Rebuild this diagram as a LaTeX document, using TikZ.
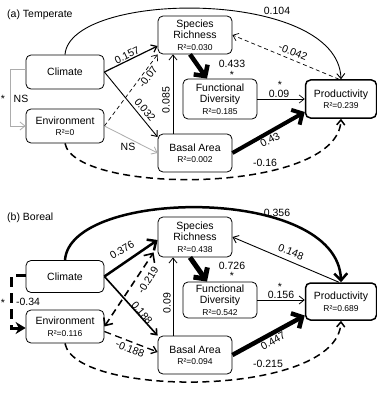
\documentclass[tikz,border=0pt]{standalone}
\usepackage{fontspec}
\setmainfont{Liberation Sans}
\usetikzlibrary{arrows.meta}
\newcommand\Rtext[1]{{\fontsize{8.5}{9.5}\selectfont #1}}
\begin{document}
\begin{tikzpicture}[x=1pt,y=-1pt,
  box/.style={draw, rounded corners=5pt, line width=0.8pt, align=center, inner sep=0pt,
    font=\fontsize{10.5}{11.5}\selectfont},
  prodbox/.style={box, line width=1.5pt},
  lab/.style={font=\fontsize{10.5}{12}\selectfont, inner sep=0pt},
  e/.style={-{Straight Barb[length=5pt,width=8pt]}, line width=0.8pt},
  ebig/.style={-{Straight Barb[length=8pt,width=17pt]}},
  emid/.style={-{Straight Barb[length=7pt,width=13pt]}},
  ns/.style={e, draw=gray!65},
  dsh/.style={dash pattern=on 4pt off 3pt},
  dshbig/.style={dash pattern=on 7pt off 4.5pt},
]
\useasboundingbox (0,0) rectangle (376,393);
\fill[white] (0,0) rectangle (376,393);

% ---------------- (a) Temperate ----------------
\node[lab, anchor=west] (tA) at (7,15) {(a) Temperate};
\node[box, minimum width=78pt, minimum height=34pt] (cA) at (65,72) {Climate};
\node[box, minimum width=78pt, minimum height=34pt] (eA) at (65,126) {Environment\\\Rtext{R²=0}};
\node[box, minimum width=74pt, minimum height=38pt] (sA) at (195,35) {Species\\Richness\\\Rtext{R²=0.030}};
\node[box, minimum width=74pt, minimum height=40pt] (fA) at (220,99) {Functional\\Diversity\\\Rtext{R²=0.185}};
\node[box, minimum width=74pt, minimum height=38pt] (bA) at (195,153) {Basal Area\\\Rtext{R²=0.002}};
\node[prodbox, minimum width=71pt, minimum height=38pt] (pA) at (341,99) {Productivity\\\Rtext{R²=0.239}};

\draw[e, line width=1.2pt] (cA.east) -- ([yshift=-11pt]sA.west);
\draw[e, line width=0.9pt] (cA.east) -- ([yshift=16pt]bA.west);
\draw[e, dsh, line width=0.7pt] (eA.east) -- (sA.south west);
\draw[ns] (eA.east) -- (bA.west);
\draw[ns] ([yshift=3pt]cA.west) -- ++(-15,0) |- (eA.west);
\draw[e] ([xshift=-22pt]bA.north) -- ([xshift=-22pt]sA.south);
\draw[ebig, line width=4.5pt] ([xshift=-5pt]sA.south) -- ([xshift=-13pt]fA.north);
\draw[e, line width=0.7pt] (fA.east) -- (pA.west);
\draw[ebig, line width=4pt] (bA.east) -- ([yshift=-13pt]pA.west);
\draw[e, dshbig, line width=1.5pt] (eA.south) .. controls (75,195) and (338,195) .. (pA.south);
\draw[e, line width=0.9pt] (cA.north) .. controls (70,-10) and (338,-12) .. (pA.north);
\draw[e, dsh, line width=0.7pt] ([xshift=-2pt]pA.north) -- (sA.east);

\node[lab, rotate=26] (lA1) at (127,55) {0.157};
\node[lab, rotate=-50] (lA2) at (145,110) {0.032};
\node[lab, rotate=54] (lA3) at (148,77) {-0.07};
\node[lab] (lA4) at (128,147) {NS};
\node[lab] (lA5) at (21,99) {NS};
\node[lab] (lA6) at (3,99) {*};
\node[lab, rotate=90] (lA7) at (166,100) {0.085};
\node[lab] (lA8) at (232,64) {0.433};
\node[lab] (lA9) at (232,75) {*};
\node[lab] (lA10) at (280,85) {*};
\node[lab] (lA11) at (279,94) {0.09};
\node[lab, rotate=28] (lA12) at (270,140) {0.43};
\node[lab] (lA13) at (265,163) {-0.16};
\node[lab] (lA14) at (277,11) {0.104};
\node[lab, rotate=-22] (lA15) at (293,52) {-0.042};

% ---------------- (b) Boreal ----------------
\node[lab, anchor=west] (tB) at (7,218) {(b) Boreal};
\node[box, minimum width=78pt, minimum height=32pt] (cB) at (65,276.5) {Climate};
\node[box, minimum width=78pt, minimum height=33pt] (eB) at (65,326.5) {Environment\\\Rtext{R²=0.116}};
\node[box, minimum width=74pt, minimum height=40pt] (sB) at (195,237) {Species\\Richness\\\Rtext{R²=0.438}};
\node[box, minimum width=74pt, minimum height=36pt] (fB) at (220,300) {Functional\\Diversity\\\Rtext{R²=0.542}};
\node[box, minimum width=74pt, minimum height=38pt] (bB) at (195,355) {Basal Area\\\Rtext{R²=0.094}};
\node[prodbox, minimum width=71pt, minimum height=37pt] (pB) at (341,301.5) {Productivity\\\Rtext{R²=0.689}};

\draw[emid, line width=2.5pt] (cB.east) -- ([yshift=-3pt]sB.west);
\draw[e, line width=1.6pt] (cB.east) -- (bB.north west);
\draw[{Straight Barb[length=6pt,width=11pt]}-{Straight Barb[length=7pt,width=13pt]}, dshbig, line width=1.6pt] (eB.east) -- ([xshift=-4pt,yshift=5pt]sB.south west);
\draw[e, dshbig, line width=1.3pt] ([yshift=-5pt]eB.east) -- ([yshift=3pt]bB.west);
\draw[-{Stealth[length=10pt,width=12pt]}, dash pattern=on 10pt off 6pt, line width=3pt] ([yshift=1.5pt]cB.west) -- ++(-14,0) |- ([yshift=-1.5pt]eB.west);
\draw[e] ([xshift=-22pt]bB.north) -- ([xshift=-22pt]sB.south);
\draw[ebig, line width=5pt] ([xshift=-5pt]sB.south) -- ([xshift=-13pt]fB.north);
\draw[e, line width=0.8pt] (fB.east) -- (fB.east -| pB.west);
\draw[ebig, line width=4.5pt] (bB.east) -- ([yshift=-14pt]pB.west);
\draw[e, dshbig, line width=1.5pt] (eB.south) .. controls (75,398) and (338,398) .. (pB.south);
\draw[emid, line width=2.5pt] (cB.north) .. controls (70,188) and (338,185) .. (pB.north);
\draw[e, line width=0.9pt] ([xshift=-2pt]pB.north) -- (sB.east);

\node[lab, rotate=31] (lB1) at (122,250) {0.376};
\node[lab, rotate=-50] (lB2) at (142,313) {0.188};
\node[lab, rotate=58] (lB3) at (148,280) {-0.219};
\node[lab, rotate=-22] (lB4) at (130,349) {-0.188};
\node[lab] (lB5) at (28,302) {-0.34};
\node[lab] (lB6) at (3,303) {*};
\node[lab, rotate=90] (lB7) at (167,303) {0.09};
\node[lab] (lB8) at (232,266) {0.726};
\node[lab] (lB9) at (232,276) {*};
\node[lab] (lB10) at (280,287) {*};
\node[lab] (lB11) at (281,295) {0.156};
\node[lab, rotate=30] (lB12) at (273,341) {0.447};
\node[lab] (lB13) at (268,364) {-0.215};
\node[lab] (lB14) at (277,213) {0.356};
\node[lab, rotate=-22] (lB15) at (291,252) {0.148};
\end{tikzpicture}
\end{document}
